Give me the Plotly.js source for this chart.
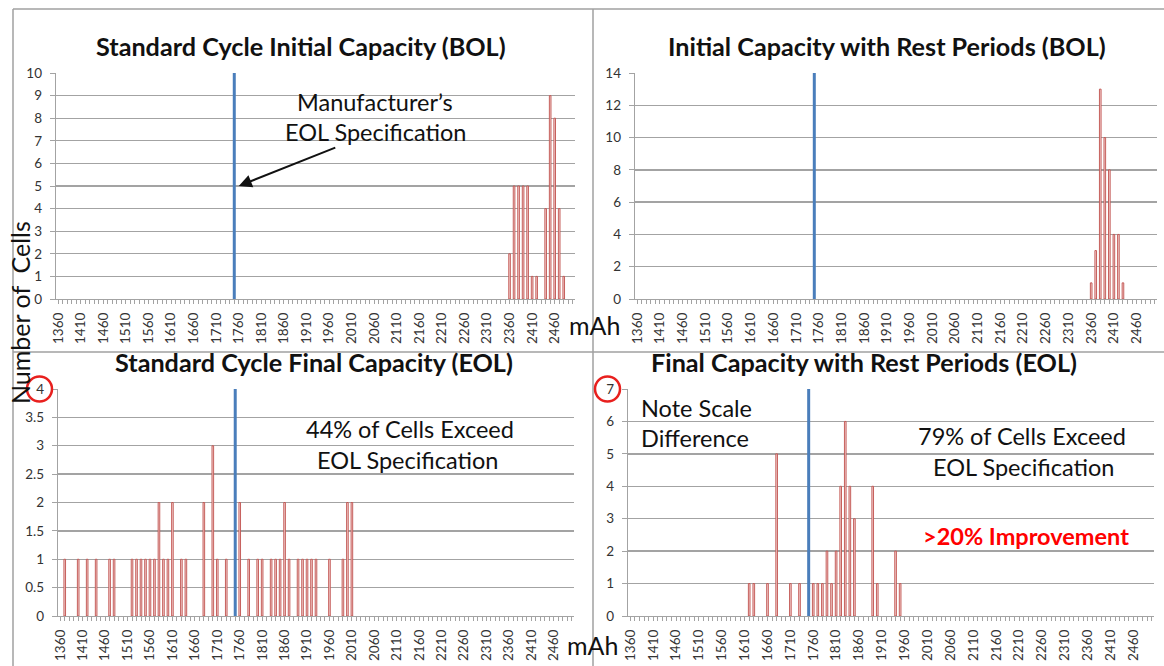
<!DOCTYPE html>
<html>
<head>
<meta charset="utf-8">
<script src="https://cdn.plot.ly/plotly-3.0.1.min.js"></script>
<style>html,body{margin:0;padding:0;background:#fff;}#chart{width:1164px;height:666px;}</style>
</head>
<body>
<div id="chart"></div>
<script>
// ---- Data (mAh bins of 10, counts of cells) ----
const specEOL = 1750;
const tickStart = 1360, tickEnd = 2460, tickStep = 50;

const bolStdX  = [2360,2370,2380,2390,2400,2410,2420,2440,2450,2460,2470,2480];
const bolStdY  = [2,5,5,5,5,1,1,4,9,8,4,1];

const bolRestX = [2360,2370,2380,2390,2400,2410,2420,2430];
const bolRestY = [1,3,13,10,8,4,4,1];

const eolStdX  = [1370,1400,1420,1440,1470,1480,1520,1530,1540,1550,1560,1570,1580,1590,1600,1610,1630,1640,1680,1700,1710,1730,1760,1780,1800,1810,1830,1840,1850,1860,1870,1890,1900,1910,1920,1930,1960,1990,2000,2010];
const eolStdY  = [1,1,1,1,1,1,1,1,1,1,1,1,2,1,1,2,1,1,2,3,1,1,2,1,1,1,1,1,1,2,1,1,1,1,1,1,1,1,2,2];

const eolRestX = [1620,1630,1660,1680,1710,1730,1760,1770,1780,1790,1800,1810,1820,1830,1840,1850,1890,1900,1940,1950];
const eolRestY = [1,1,1,5,1,1,1,1,1,2,1,2,4,6,4,3,4,1,2,1];

const titles = ["Standard Cycle Initial Capacity (BOL)", "Initial Capacity with Rest Periods (BOL)",
                "Standard Cycle Final Capacity (EOL)", "Final Capacity with Rest Periods (EOL)"];
const yMax = [10, 14, 4, 7];
const yStep = [1, 2, 0.5, 1];

// ---- Layout helpers ----
const W = 1164, H = 666;
const px = x => x / W;
const py = y => 1 - y / H;
const FONT = "Lato, 'Open Sans', sans-serif";
const GRID = "#a3a3a3";

const series = [[bolStdX, bolStdY], [bolRestX, bolRestY], [eolStdX, eolStdY], [eolRestX, eolRestY]];
const axisIds = ["", "2", "3", "4"];
const doms = [
  {x: [px(56), px(575)], y: [py(299), py(73)]},
  {x: [px(635), px(1157)], y: [py(299), py(73)]},
  {x: [px(58), px(574)], y: [py(616), py(389)]},
  {x: [px(628), px(1154)], y: [py(616), py(389)]}
];

const traces = series.map((s, i) => ({
  type: "bar", x: s[0], y: s[1], width: 3.6,
  xaxis: "x" + axisIds[i], yaxis: "y" + axisIds[i],
  marker: {color: "#f6d6d5", line: {color: "#c0504d", width: 0.9}},
  hoverinfo: "x+y", showlegend: false
}));

const layout = {
  width: W, height: H, margin: {l: 0, r: 0, t: 0, b: 0},
  paper_bgcolor: "#fff", plot_bgcolor: "#fff",
  font: {family: FONT, color: "#222"},
  bargap: 0, showlegend: false,
  shapes: [], annotations: []
};

axisIds.forEach((id, i) => {
  layout["xaxis" + id] = {
    domain: doms[i].x, anchor: "y" + id, range: [1355, 2505],
    tickmode: "linear", tick0: tickStart, dtick: tickStep,
    tickangle: -90, tickfont: {size: 13.5, color: "#333", family: FONT},
    ticks: "outside", ticklen: 4, tickcolor: GRID, ticklabelstandoff: 3,
    minor: {dtick: 10, tick0: tickStart, ticks: "outside", ticklen: 4, tickcolor: GRID, showgrid: false},
    showgrid: false, zeroline: false, showline: true, linecolor: GRID, linewidth: 1.3,
    fixedrange: true
  };
  layout["yaxis" + id] = {
    domain: doms[i].y, anchor: "x" + id, range: [0, yMax[i]],
    tickmode: "linear", tick0: 0, dtick: yStep[i],
    tickfont: {size: 13.5, color: "#333", family: FONT},
    ticks: "outside", ticklen: 5, tickcolor: GRID, ticklabelstandoff: 5,
    showgrid: true, gridcolor: GRID, gridwidth: 1.3,
    zeroline: false, showline: true, linecolor: GRID, linewidth: 1.3,
    fixedrange: true
  };
  // EOL specification line
  layout.shapes.push({type: "line", xref: "x" + id, yref: "y" + id + " domain",
    x0: specEOL, x1: specEOL, y0: 0, y1: 1, line: {color: "#4a7ebb", width: 3}});
});

// frame lines between chart panels
const frame = {color: "#a0a0a0", width: 1.5};
layout.shapes.push(
  {type: "line", xref: "paper", yref: "paper", x0: px(13), x1: 1, y0: py(9), y1: py(9), line: frame},
  {type: "line", xref: "paper", yref: "paper", x0: px(13), x1: px(13), y0: py(9), y1: 0, line: frame},
  {type: "line", xref: "paper", yref: "paper", x0: px(593), x1: px(593), y0: py(9), y1: 0, line: frame},
  {type: "line", xref: "paper", yref: "paper", x0: px(13), x1: 1, y0: py(352), y1: py(352), line: frame}
);
// red circles highlighting axis maxima
[[39.5, 389], [607.5, 389]].forEach(c => {
  layout.shapes.push({type: "circle", xref: "paper", yref: "paper",
    x0: px(c[0] - 12.5), x1: px(c[0] + 12.5), y0: py(c[1] + 12.5), y1: py(c[1] - 12.5),
    line: {color: "#e8201e", width: 2.5}});
});

// titles
const titlePos = [[301, 46], [887, 46], [314, 362], [864, 362]];
titles.forEach((t, i) => layout.annotations.push({
  text: "<b>" + t + "</b>", xref: "paper", yref: "paper", x: px(titlePos[i][0]), y: py(titlePos[i][1]),
  showarrow: false, xanchor: "center", yanchor: "middle", font: {size: 25.2, color: "#111", family: FONT}
}));

function note(text, x, y, opts) {
  layout.annotations.push(Object.assign({
    text: text, xref: "paper", yref: "paper", x: px(x), y: py(y), showarrow: false,
    xanchor: "center", yanchor: "middle", font: {size: 23.5, color: "#111", family: FONT}
  }, opts || {}));
}
note("Manufacturer’s", 375, 102);
note("EOL Specification", 375, 132);
note("44% of Cells Exceed", 410, 429);
note("EOL Specification", 407, 460);
note("Note Scale", 639, 408, {xanchor: "left"});
note("Difference", 639, 438, {xanchor: "left"});
note("79% of Cells Exceed", 1022, 436);
note("EOL Specification", 1023, 467);
note("<b>&gt;20% Improvement</b>", 1026, 536, {font: {size: 23.5, color: "#ff0000", family: FONT}});
note("mAh", 594, 325, {font: {size: 25, color: "#111", family: FONT}});
note("mAh", 592, 645, {font: {size: 25, color: "#111", family: FONT}});
note("Number of  Cells", 20, 313, {textangle: -90, font: {size: 25, color: "#111", family: FONT}});

// arrow pointing to the specification line
layout.annotations.push({
  text: "", xref: "x", yref: "y", x: specEOL + 10, y: 5,
  showarrow: true, ax: 98, ay: -39, arrowhead: 2, arrowsize: 1.3, arrowwidth: 2, arrowcolor: "#111"
});

Plotly.newPlot("chart", traces, layout, {displayModeBar: false, staticPlot: true});
</script>
</body>
</html>
